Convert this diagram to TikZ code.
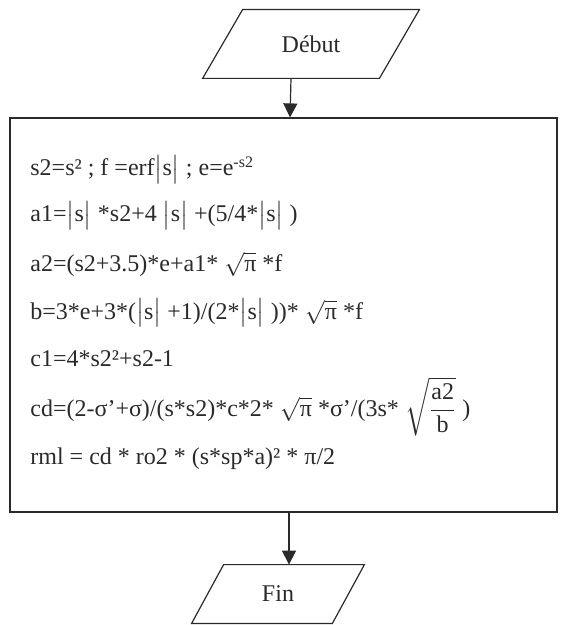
\documentclass[tikz,border=0pt]{standalone}
\usepackage{amsmath}
\usepackage{fontspec}
\setmainfont{Liberation Serif}
\usetikzlibrary{arrows.meta,calc}
\definecolor{inkgray}{HTML}{2A2A2A}
\newcommand{\vabs}[1]{$\bigl|$#1$\bigr|$}
\newcommand{\rpi}{$\sqrt{\mbox{π}}$}

\begin{document}
\begin{tikzpicture}[
  x=0.5pt, y=-0.5pt,
  font=\fontsize{12}{14}\selectfont, inkgray,
  io/.style={rectangle, inner sep=0pt, align=center},
  block/.style={rectangle, draw=inkgray, line width=0.6pt, inner sep=0pt},
  frame/.style={draw=inkgray, line width=0.6pt},
  instr/.style={anchor=base west, inner sep=0pt},
  a/.style={-{Triangle[length=7pt, width=7pt]}, line width=0.6pt, inkgray},
]
\useasboundingbox (0,0) rectangle (568,625);

% ---- start
\node[io, minimum width=88pt, minimum height=34pt] (debut) at (311,44) {Début};
\draw[frame] ($(debut.north west)+(20,0)$) -- ($(debut.north east)+(20,0)$)
  -- ($(debut.south east)+(-20,0)$) -- ($(debut.south west)+(-20,0)$) -- cycle;

% ---- the computation block
\node[block, minimum width=273.5pt, minimum height=197pt] (calc) at (283.5,315) {};
\draw[a] ($(debut.south)+(-20,0)$) -- (calc.north -| 290,0);

\node[instr] (l1) at (30,176) {s2=s² ; f =erf\vabs{s} ; e=e\textsuperscript{-s2}};
\node[instr] (l2) at (30,222) {a1=\vabs{s} *s2+4 \vabs{s} +(5/4*\vabs{s} )};
\node[instr] (l3) at (30,271) {a2=(s2+3.5)*e+a1* \rpi{} *f};
\node[instr] (l4) at (30,319) {b=3*e+3*(\vabs{s} +1)/(2*\vabs{s} ))* \rpi{} *f};
\node[instr] (l5) at (30,366) {c1=4*s2²+s2-1};
\node[instr] (l6) at (30,416)
  {cd=(2-σ’+σ)/(s*s2)*c*2* \rpi{} *σ’/(3s* $\sqrt{\dfrac{\mbox{a2}}{\mbox{b}}}$ )};
\node[instr] (l7) at (30,464) {rml = cd * ro2 * (s*sp*a)² * π/2};

% ---- end
\node[io, minimum width=70pt, minimum height=29pt] (fin) at (278,594) {Fin};
\draw[frame] ($(fin.north west)+(16,0)$) -- ($(fin.north east)+(16,0)$)
  -- ($(fin.south east)+(-16,0)$) -- ($(fin.south west)+(-16,0)$) -- cycle;
\draw[a] (calc.south -| 289,0) -- (fin.north -| 289,0);
\end{tikzpicture}
\end{document}
